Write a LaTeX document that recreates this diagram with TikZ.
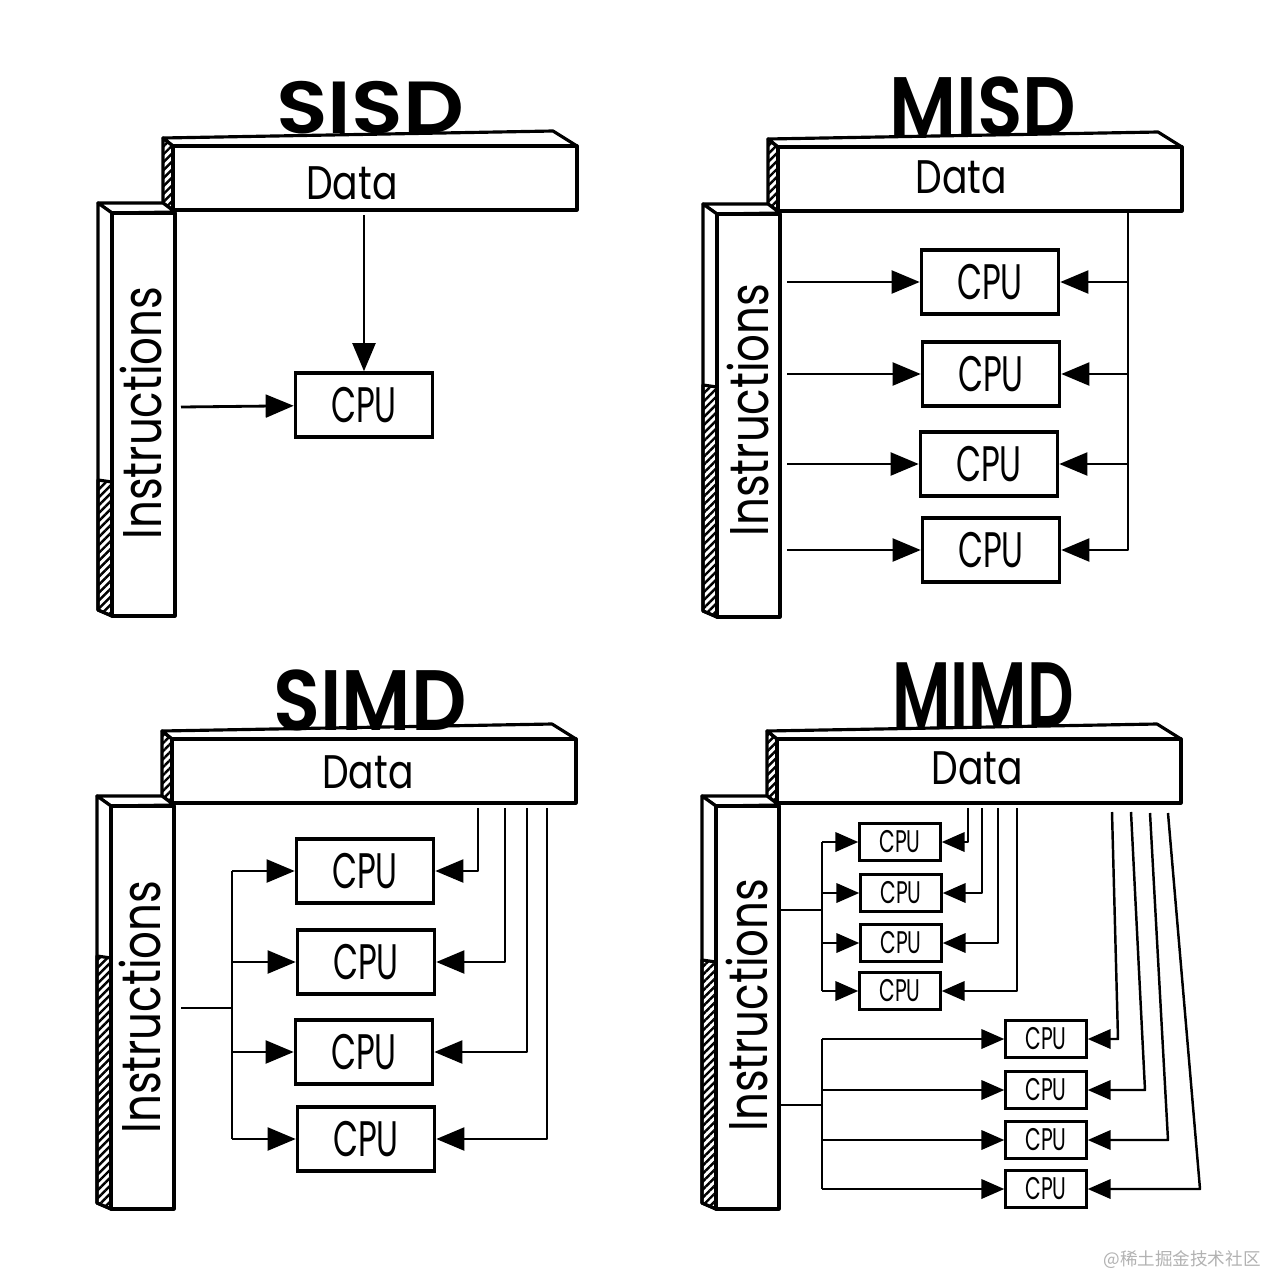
\documentclass[tikz,border=0pt]{standalone}
\usepackage{fontspec}
\newfontfamily\labelfont[FakeStretch=0.8]{Poppins}
\newfontfamily\cpufont[FakeStretch=0.65]{Poppins}
\newfontfamily\titlefont[FakeStretch=0.9]{Poppins SemiBold}
\newfontfamily\titlewide[FakeStretch=1.15]{Poppins SemiBold}
\newfontfamily\titlenarrow[FakeStretch=0.7]{Poppins SemiBold}
\newfontfamily\cjkfont{Noto Sans CJK SC}
\usetikzlibrary{arrows.meta,patterns.meta}

\tikzset{
  edge/.style={line width=0.9pt, line join=round},
  hatch/.style={edge, pattern={Lines[angle=45,distance=1.6pt,line width=0.7pt]}},
  wire/.style={line width=0.8pt, line join=round},
  flow/.style={wire, -{Triangle[length=8pt,width=6.5pt]}},
  smallflow/.style={line width=0.7pt, line join=round, -{Triangle[length=6.5pt,width=5.5pt]}},
  cpu/.style={draw, line width=1pt, minimum width=13.7mm, minimum height=6.4mm, inner sep=0pt,
    font=\cpufont\fontsize{14.2}{16}\selectfont},
  smallcpu/.style={draw, line width=0.7pt, minimum width=8.1mm, minimum height=3.7mm, inner sep=0pt,
    font=\cpufont\fontsize{8.9}{10}\selectfont},
  datalabel/.style={inner sep=0pt, font=\labelfont\fontsize{13.4}{15}\selectfont},
  instrlabel/.style={inner sep=0pt, rotate=90, font=\labelfont\fontsize{15.5}{17}\selectfont},
  heading/.style={anchor=base, inner sep=0pt},
  % the two 3D bars of one panel, #1 = where the hatching starts
  pics/bars/.style={code={
    \draw[edge, fill=white] (173,146) -- (163,138) -- (553,131) -- (577,146) -- cycle;
    \draw[hatch] (163,138) -- (173,146) -- (173,210) -- (163,203) -- cycle;
    \draw[edge, fill=white] (173,146) rectangle (577,210);
    \draw[edge, fill=white] (112,213) -- (98,203) -- (163,203) -- (175,212) -- cycle;
    \draw[edge, fill=white] (98,203) -- (112,213) -- (112,616) -- (98,610) -- cycle;
    \draw[hatch] (98,#1) -- (112,#1+2) -- (112,616) -- (98,610) -- cycle;
    \draw[edge, fill=white] (112,213) rectangle (175,616);
  }}
}

\begin{document}
\begin{tikzpicture}[x=0.1mm, y=-0.1mm]
  \fill[white] (0,0) rectangle (1280,1280);
  \useasboundingbox (0,0) rectangle (1280,1280);

  % SISD
  \pic at (0,0) {bars=480};
  \node[heading, font=\titlewide\fontsize{21}{24}\selectfont] (sisd-title) at (370,133) {SISD};
  \node[datalabel] (sisd-data) at (352,183) {Data};
  \node[instrlabel] (sisd-instr) at (141,413) {Instructions};
  \node[cpu] (sisd-cpu) at (364,405) {CPU};
  \coordinate (sisd-dtop) at (364,215);
  \coordinate (sisd-iin) at (181,407);
  \draw[flow] (sisd-dtop) -- (sisd-cpu);
  \draw[flow] (sisd-iin) -- (sisd-cpu);

  % MISD
  \pic at (605,1) {bars=384};
  \node[heading, font=\titlefont\fontsize{23.6}{26}\selectfont] (misd-title) at (983,135) {MISD};
  \node[datalabel] (misd-data) at (961,177) {Data};
  \node[instrlabel] (misd-instr) at (748,410) {Instructions};
  \node[cpu] (misd-cpu1) at (990,282) {CPU};
  \node[cpu] (misd-cpu2) at (991,374) {CPU};
  \node[cpu] (misd-cpu3) at (989,464) {CPU};
  \node[cpu] (misd-cpu4) at (991,550) {CPU};
  \coordinate (misd-iin) at (787,0);
  \coordinate (misd-dtop) at (1128,212);
  \draw[flow] (misd-iin |- misd-cpu1) -- (misd-cpu1);
  \draw[flow] (misd-iin |- misd-cpu2) -- (misd-cpu2);
  \draw[flow] (misd-iin |- misd-cpu3) -- (misd-cpu3);
  \draw[flow] (misd-iin |- misd-cpu4) -- (misd-cpu4);
  \draw[flow] (misd-dtop) |- (misd-cpu4);
  \draw[flow] (misd-dtop |- misd-cpu1) -- (misd-cpu1);
  \draw[flow] (misd-dtop |- misd-cpu2) -- (misd-cpu2);
  \draw[flow] (misd-dtop |- misd-cpu3) -- (misd-cpu3);

  % SIMD
  \pic at (-1,593) {bars=363};
  \node[heading, font=\titlefont\fontsize{24.4}{27}\selectfont] (simd-title) at (370,730) {SIMD};
  \node[datalabel] (simd-data) at (368,772) {Data};
  \node[instrlabel] (simd-instr) at (140,1007) {Instructions};
  \node[cpu] (simd-cpu1) at (365,871) {CPU};
  \node[cpu] (simd-cpu2) at (366,962) {CPU};
  \node[cpu] (simd-cpu3) at (364,1052) {CPU};
  \node[cpu] (simd-cpu4) at (366,1139) {CPU};
  \coordinate (simd-iin) at (181,1008);
  \coordinate (simd-trunk) at (232,1008);
  \draw[wire] (simd-iin) -- (simd-trunk);
  \draw[wire] (simd-trunk |- simd-cpu1) -- (simd-trunk |- simd-cpu4);
  \draw[flow] (simd-trunk |- simd-cpu1) -- (simd-cpu1);
  \draw[flow] (simd-trunk |- simd-cpu2) -- (simd-cpu2);
  \draw[flow] (simd-trunk |- simd-cpu3) -- (simd-cpu3);
  \draw[flow] (simd-trunk |- simd-cpu4) -- (simd-cpu4);
  \coordinate (simd-d1) at (478,808);
  \coordinate (simd-d2) at (505,808);
  \coordinate (simd-d3) at (527,808);
  \coordinate (simd-d4) at (547,808);
  \draw[flow] (simd-d1) |- (simd-cpu1);
  \draw[flow] (simd-d2) |- (simd-cpu2);
  \draw[flow] (simd-d3) |- (simd-cpu3);
  \draw[flow] (simd-d4) |- (simd-cpu4);

  % MIMD
  \pic at (604,593) {bars=367};
  \node[heading, font=\titlenarrow\fontsize{26.4}{29}\selectfont] (mimd-title) at (983,727) {MIMD};
  \node[datalabel] (mimd-data) at (977,768) {Data};
  \node[instrlabel] (mimd-instr) at (747,1005) {Instructions};
  \node[smallcpu] (mimd-cpu1) at (900,842) {CPU};
  \node[smallcpu] (mimd-cpu2) at (901,893) {CPU};
  \node[smallcpu] (mimd-cpu3) at (901,943) {CPU};
  \node[smallcpu] (mimd-cpu4) at (900,991) {CPU};
  \node[smallcpu] (mimd-cpu5) at (1046,1039) {CPU};
  \node[smallcpu] (mimd-cpu6) at (1046,1090) {CPU};
  \node[smallcpu] (mimd-cpu7) at (1046,1140) {CPU};
  \node[smallcpu] (mimd-cpu8) at (1046,1189) {CPU};
  \coordinate (mimd-iin1) at (780,910);
  \coordinate (mimd-trunk1) at (822,910);
  \coordinate (mimd-iin2) at (780,1105);
  \coordinate (mimd-trunk2) at (822,1105);
  \draw[wire] (mimd-iin1) -- (mimd-trunk1);
  \draw[wire] (mimd-trunk1 |- mimd-cpu1) -- (mimd-trunk1 |- mimd-cpu4);
  \draw[smallflow] (mimd-trunk1 |- mimd-cpu1) -- (mimd-cpu1);
  \draw[smallflow] (mimd-trunk1 |- mimd-cpu2) -- (mimd-cpu2);
  \draw[smallflow] (mimd-trunk1 |- mimd-cpu3) -- (mimd-cpu3);
  \draw[smallflow] (mimd-trunk1 |- mimd-cpu4) -- (mimd-cpu4);
  \draw[wire] (mimd-iin2) -- (mimd-trunk2);
  \draw[wire] (mimd-trunk2 |- mimd-cpu5) -- (mimd-trunk2 |- mimd-cpu8);
  \draw[smallflow] (mimd-trunk2 |- mimd-cpu5) -- (mimd-cpu5);
  \draw[smallflow] (mimd-trunk2 |- mimd-cpu6) -- (mimd-cpu6);
  \draw[smallflow] (mimd-trunk2 |- mimd-cpu7) -- (mimd-cpu7);
  \draw[smallflow] (mimd-trunk2 |- mimd-cpu8) -- (mimd-cpu8);
  \coordinate (mimd-d1) at (968,808);
  \coordinate (mimd-d2) at (982,808);
  \coordinate (mimd-d3) at (998,808);
  \coordinate (mimd-d4) at (1017,808);
  \draw[smallflow] (mimd-d1) |- (mimd-cpu1);
  \draw[smallflow] (mimd-d2) |- (mimd-cpu2);
  \draw[smallflow] (mimd-d3) |- (mimd-cpu3);
  \draw[smallflow] (mimd-d4) |- (mimd-cpu4);
  \coordinate (mimd-d5) at (1112,812);
  \coordinate (mimd-d6) at (1131,812);
  \coordinate (mimd-d7) at (1150,813);
  \coordinate (mimd-d8) at (1168,813);
  \coordinate (mimd-b5) at (1118,1039);
  \coordinate (mimd-b6) at (1145,1090);
  \coordinate (mimd-b7) at (1168,1140);
  \coordinate (mimd-b8) at (1200,1189);
  \draw[smallflow] (mimd-d5) -- (mimd-b5) -- (mimd-cpu5);
  \draw[smallflow] (mimd-d6) -- (mimd-b6) -- (mimd-cpu6);
  \draw[smallflow] (mimd-d7) -- (mimd-b7) -- (mimd-cpu7);
  \draw[smallflow] (mimd-d8) -- (mimd-b8) -- (mimd-cpu8);

  \node[font=\cjkfont\fontsize{5}{6}\selectfont, text=black!30, anchor=east] (mark) at (1273,1260) {@稀土掘金技术社区};
\end{tikzpicture}
\end{document}
